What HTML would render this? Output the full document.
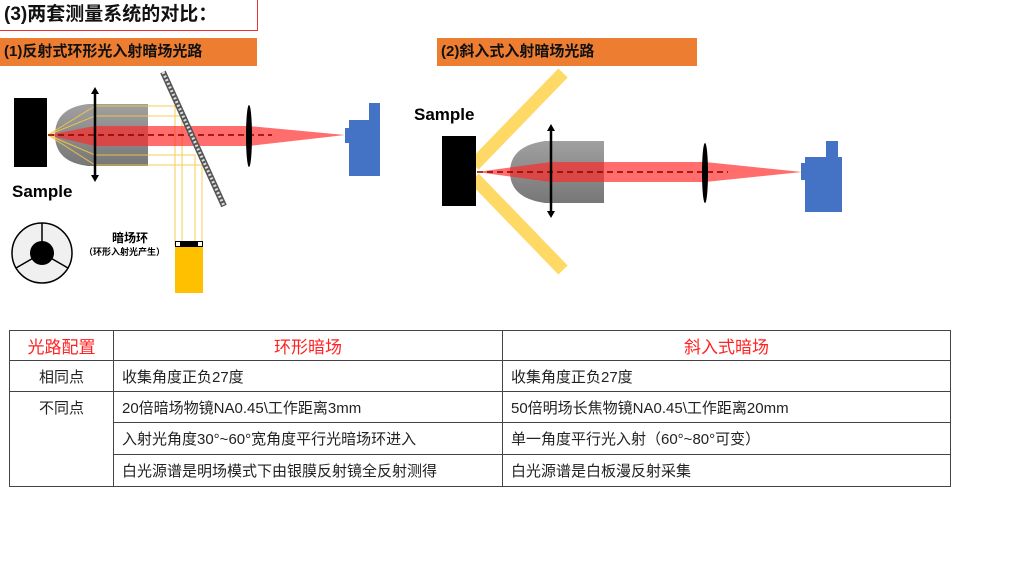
<!DOCTYPE html>
<html><head><meta charset="utf-8"><style>
body{margin:0;width:1024px;height:573px;background:#fff;position:relative;overflow:hidden;font-family:"Liberation Sans","Noto Sans CJK SC",sans-serif}
.t{position:absolute;white-space:nowrap}
.ban{position:absolute;background:#ed7d31;color:#111;font-size:15px;line-height:28px;padding-left:4px;box-sizing:border-box;font-weight:bold}
table{position:absolute;left:9px;top:330px;border-collapse:collapse;font-size:15px;color:#222}
td{border:1.5px solid #444;padding:0 8px;height:30px;box-sizing:border-box}
</style></head><body>
<div class="t" style="left:0;top:0;width:258px;height:31px;border-right:1.5px solid #e33;border-bottom:1.5px solid #e33;box-sizing:border-box;font-size:19px;line-height:29px;padding-left:4px;font-weight:bold;color:#111">(3)两套测量系统的对比：</div>
<div class="ban" style="left:0;top:38px;width:257px;height:28px">(1)反射式环形光入射暗场光路</div>
<div class="ban" style="left:437px;top:38px;width:260px;height:28px">(2)斜入式入射暗场光路</div>
<svg style="position:absolute;left:0;top:0" width="1024" height="330">
<defs><linearGradient id="g" x1="0" y1="0" x2="0" y2="1"><stop offset="0" stop-color="#a0a0a0"/><stop offset="1" stop-color="#777"/></linearGradient></defs>
<!-- left -->
<rect x="14" y="98" width="33" height="69" fill="#000"/>
<path d="M148,104 H88 Q55,108 55,135 Q55,162 88,166 H148 Z" fill="url(#g)"/>
<g stroke="#f5c842" stroke-width="1" fill="none" opacity=".9">
<path d="M48,135 L95,106 H175 V245"/><path d="M48,135 L95,116 H182 V245"/>
<path d="M48,135 L95,155 H195 V245"/><path d="M48,135 L95,165 H202 V245"/>
</g>
<path d="M48,135 L95,126 H249 L345,135 L249,146 H95 Z" fill="rgba(255,40,40,0.68)"/>
<line x1="48" y1="135" x2="272" y2="135" stroke="#8b0000" stroke-width="1.5" stroke-dasharray="6,4"/>
<line x1="95" y1="92" x2="95" y2="177" stroke="#000" stroke-width="2.5"/>
<path d="M91,94 L95,87 L99,94 Z M91,175 L95,182 L99,175 Z" fill="#000"/>
<line x1="163" y1="72" x2="224" y2="206" stroke="#555" stroke-width="6"/>
<line x1="163" y1="72" x2="224" y2="206" stroke="#ddd" stroke-width="3" stroke-dasharray="2,2"/>
<ellipse cx="249" cy="136" rx="3" ry="31" fill="#000"/>
<rect x="349" y="120" width="31" height="56" fill="#4472c4"/><rect x="369" y="103" width="11" height="18" fill="#4472c4"/><rect x="345" y="128" width="5" height="15" fill="#4472c4"/>
<rect x="175" y="247" width="28" height="46" fill="#ffc000"/>
<rect x="175" y="241" width="28" height="6" fill="#000"/><rect x="176" y="242" width="4" height="4" fill="#fff"/><rect x="198" y="242" width="4" height="4" fill="#fff"/>
<circle cx="42" cy="253" r="30" fill="#f0f0f0" stroke="#000" stroke-width="1.5"/>
<g stroke="#000" stroke-width="1.5"><line x1="42" y1="253" x2="42" y2="223"/><line x1="42" y1="253" x2="16" y2="268"/><line x1="42" y1="253" x2="68" y2="268"/></g>
<circle cx="42" cy="253" r="12" fill="#000"/>
<text x="12" y="197" font-size="17" font-weight="bold" font-family="Liberation Sans,sans-serif">Sample</text>
<text x="112" y="242" font-size="12" font-weight="bold" font-family="Liberation Sans,Noto Sans CJK SC,sans-serif">暗场环</text>
<text x="84" y="255" font-size="9" font-weight="bold" font-family="Liberation Sans,Noto Sans CJK SC,sans-serif">（环形入射光产生）</text>
<!-- right -->
<line x1="474" y1="165" x2="563" y2="73" stroke="#ffd966" stroke-width="13"/>
<line x1="474" y1="178" x2="563" y2="270" stroke="#ffd966" stroke-width="13"/>
<rect x="442" y="136" width="34" height="70" fill="#000"/>
<path d="M604,141 H545 Q510,146 510,172 Q510,198 545,203 H604 Z" fill="url(#g)"/>
<path d="M477,172 L551,162 H705 L802,172 L705,182 H551 Z" fill="rgba(255,40,40,0.68)"/>
<line x1="477" y1="172" x2="728" y2="172" stroke="#8b0000" stroke-width="1.5" stroke-dasharray="6,4"/>
<line x1="551" y1="129" x2="551" y2="213" stroke="#000" stroke-width="2.5"/>
<path d="M547,131 L551,124 L555,131 Z M547,211 L551,218 L555,211 Z" fill="#000"/>
<ellipse cx="705" cy="173" rx="3" ry="30" fill="#000"/>
<rect x="805" y="157" width="37" height="55" fill="#4472c4"/><rect x="826" y="141" width="12" height="17" fill="#4472c4"/><rect x="801" y="163" width="5" height="17" fill="#4472c4"/>
<text x="414" y="120" font-size="17" font-weight="bold" font-family="Liberation Sans,sans-serif">Sample</text>
</svg>
<table>
<tr><td style="width:104px;text-align:center;color:#f22;font-size:17px">光路配置</td><td style="width:389px;text-align:center;color:#f22;font-size:17px">环形暗场</td><td style="width:448px;text-align:center;color:#f22;font-size:17px">斜入式暗场</td></tr>
<tr><td style="text-align:center;height:31px">相同点</td><td>收集角度正负27度</td><td>收集角度正负27度</td></tr>
<tr><td rowspan="3" style="text-align:center;vertical-align:top;padding-top:5px">不同点</td><td style="height:31px">20倍暗场物镜NA0.45\工作距离3mm</td><td>50倍明场长焦物镜NA0.45\工作距离20mm</td></tr>
<tr><td style="height:32px">入射光角度30°~60°宽角度平行光暗场环进入</td><td>单一角度平行光入射（60°~80°可变）</td></tr>
<tr><td style="height:32px">白光源谱是明场模式下由银膜反射镜全反射测得</td><td>白光源谱是白板漫反射采集</td></tr>
</table>
</body></html>
